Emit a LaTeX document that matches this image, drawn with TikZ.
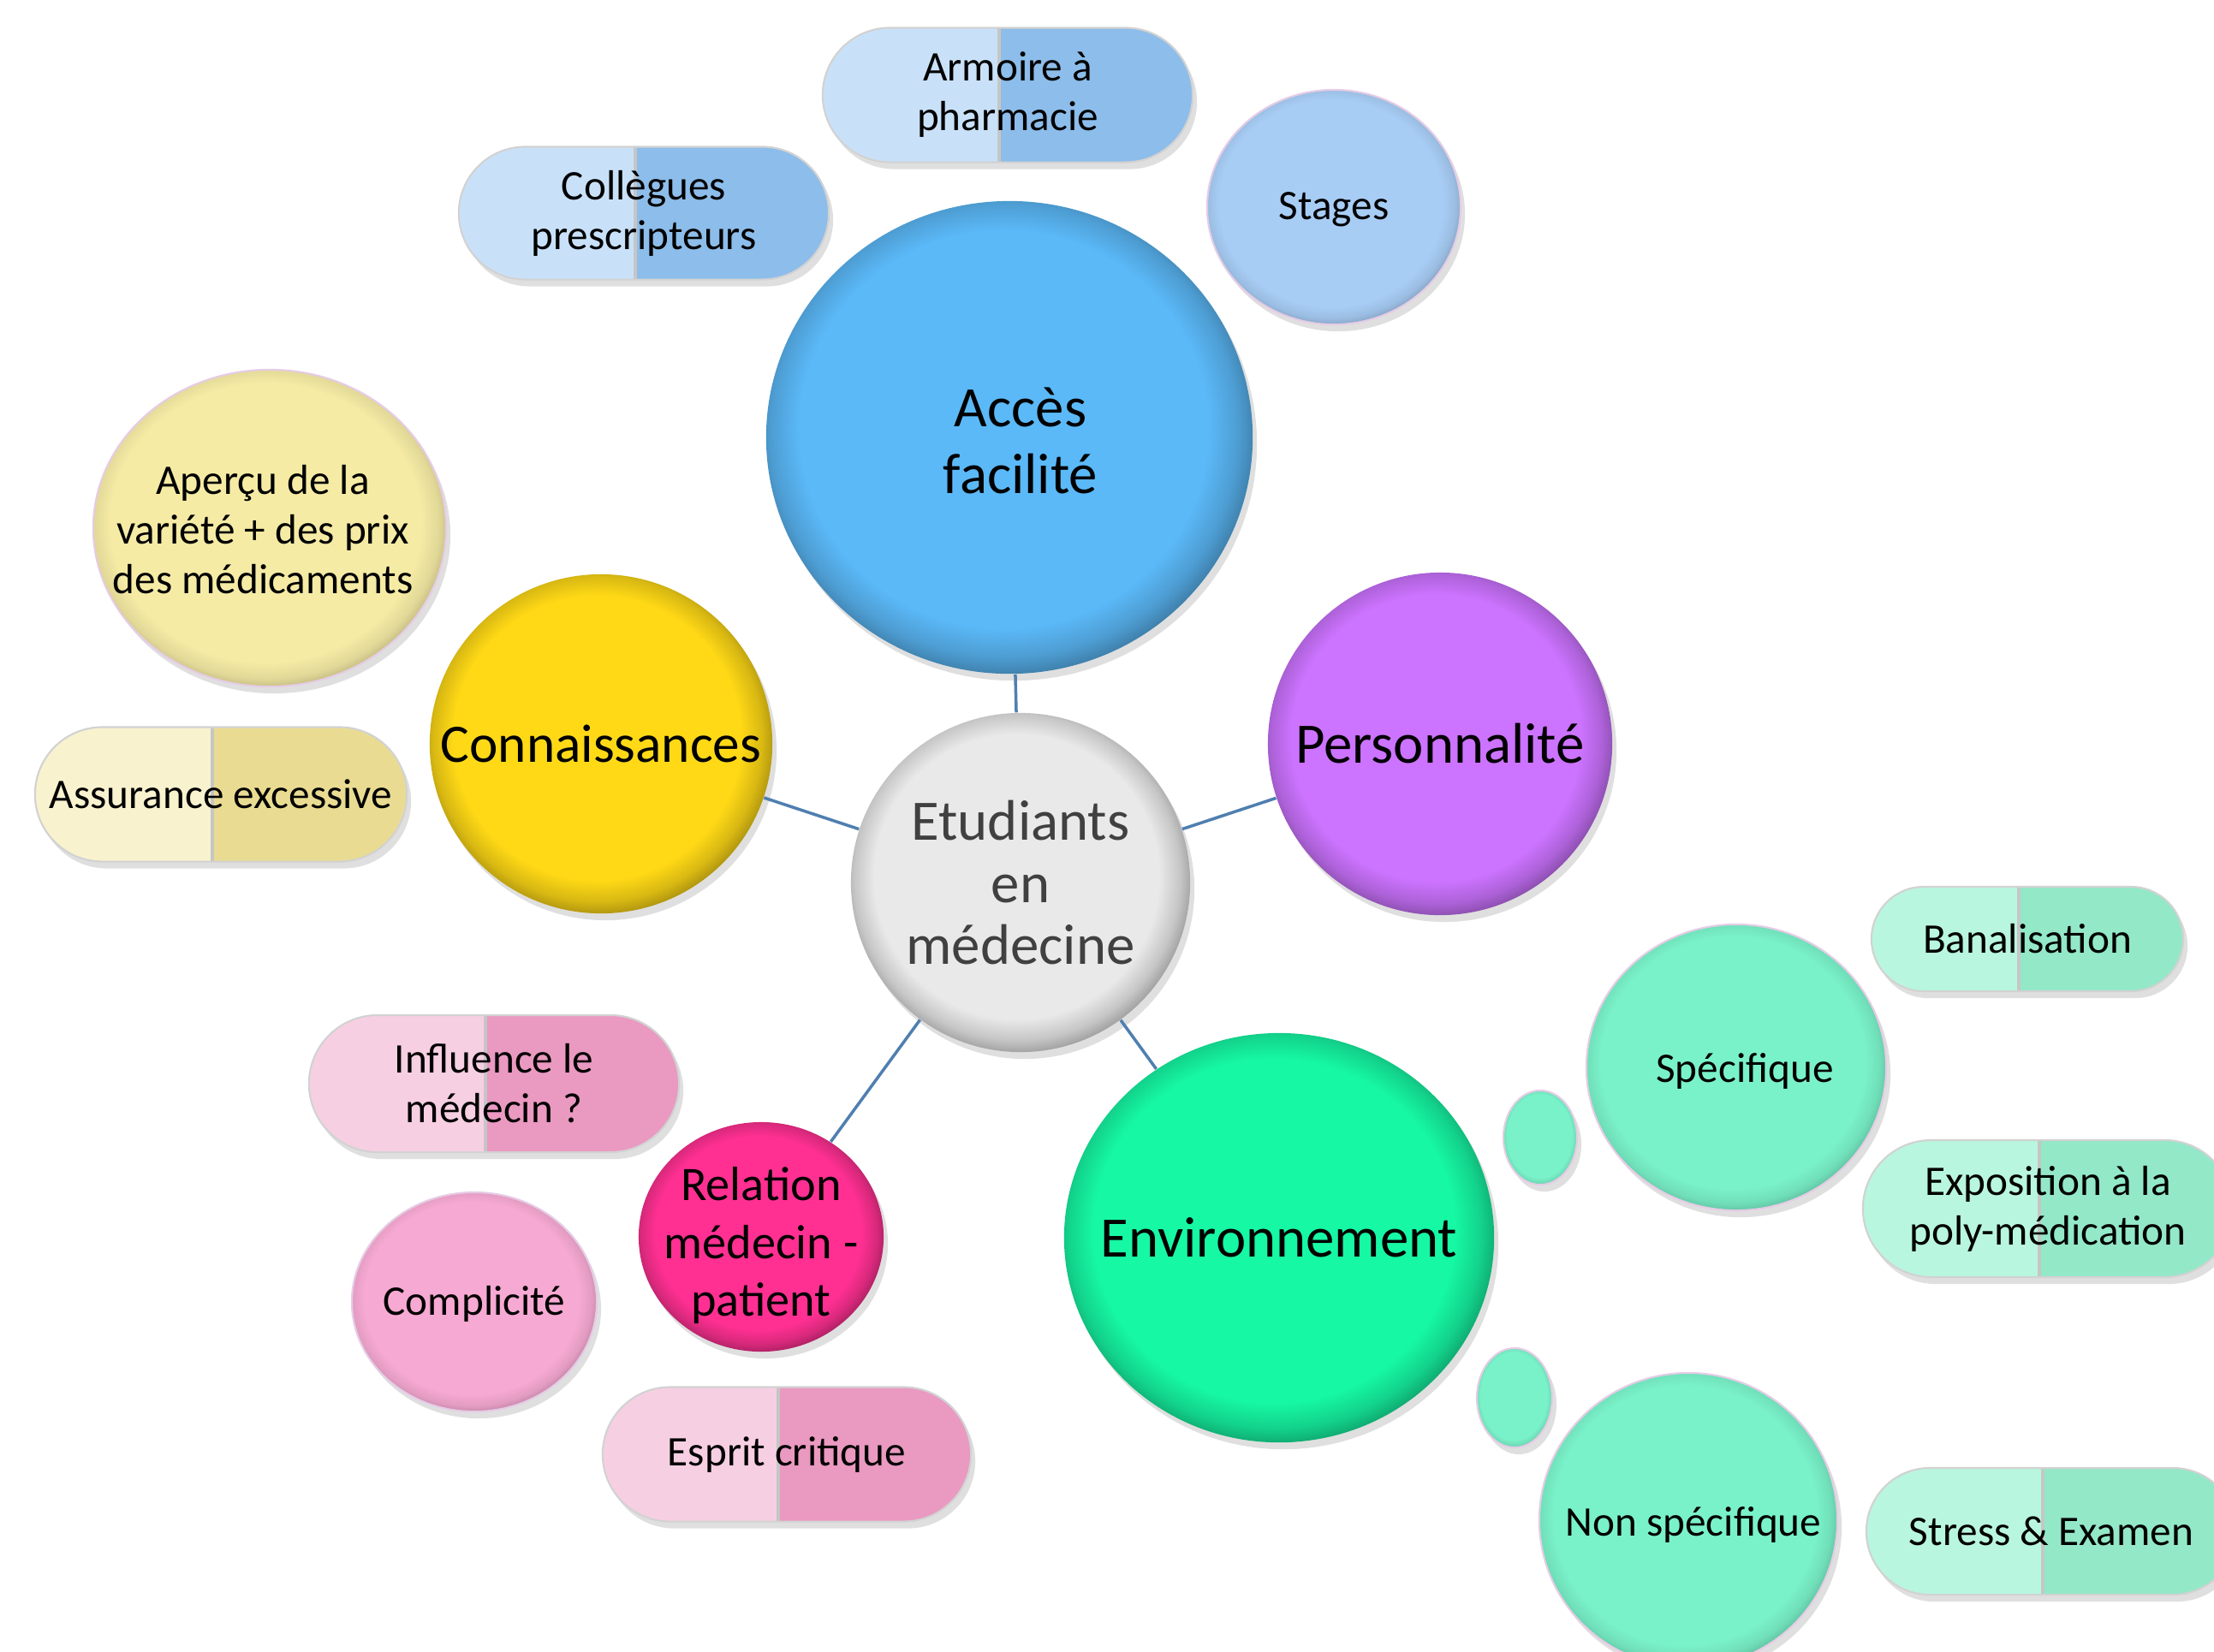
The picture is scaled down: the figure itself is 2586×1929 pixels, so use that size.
\documentclass[tikz,border=0pt]{standalone}
\usepackage{fontspec}
\setmainfont{Carlito}
\usepackage{xcolor}
\usepackage{tikz}
\usetikzlibrary{shapes,positioning,shadows}
\usetikzlibrary{shapes.geometric, shapes.misc}

\definecolor{linkblue}{HTML}{4F7FB0}
\definecolor{centregrey}{HTML}{E9E9E9}
\definecolor{centretext}{HTML}{404040}
\definecolor{accesblue}{HTML}{5BB9F8}
\definecolor{connyellow}{HTML}{FFD916}
\definecolor{persopurple}{HTML}{CC73FF}
\definecolor{envgreen}{HTML}{16F8A4}
\definecolor{relpink}{HTML}{FF3092}
\definecolor{bluesat}{HTML}{A8CDF5}
\definecolor{bluelight}{HTML}{C9E1F8}
\definecolor{bluedark}{HTML}{8DBDEA}
\definecolor{yellowsat}{HTML}{F5EBA5}
\definecolor{yellowlight}{HTML}{F8F2CE}
\definecolor{yellowdark}{HTML}{E9DC92}
\definecolor{pinksat}{HTML}{F6A9D2}
\definecolor{pinklight}{HTML}{F7CFE2}
\definecolor{pinkdark}{HTML}{EA99C1}
\definecolor{greensat}{HTML}{7AF2C9}
\definecolor{greenlight}{HTML}{B9F6DF}
\definecolor{greendark}{HTML}{93E8C8}

\colorlet{bubblecol}{white}
\pgfdeclareradialshading[bubblecol]{bubble}{\pgfpoint{-1bp}{1.5bp}}{color(0bp)=(bubblecol); color(21bp)=(bubblecol); color(24bp)=(bubblecol!85!black); color(26bp)=(bubblecol!68!black); color(50bp)=(bubblecol!68!black)}
\pgfdeclareradialshading[bubblecol]{softbubble}{\pgfpoint{-1bp}{1.5bp}}{color(0bp)=(bubblecol); color(22bp)=(bubblecol); color(24.5bp)=(bubblecol!92!black); color(26bp)=(bubblecol!80!black); color(50bp)=(bubblecol!80!black)}

\tikzstyle{link} = [line width=1pt, draw=linkblue]
\tikzset{
    bubble/.style={ellipse, inner sep=0pt, /utils/exec={\colorlet{bubblecol}{#1}}, shading=bubble,
        drop shadow={shadow xshift=0.5mm, shadow yshift=-0.8mm, opacity=0.25}},
    satellite/.style={bubble=#1, shading=softbubble, draw=violet!20, line width=0.6pt},
    capsule/.style={rounded rectangle, inner sep=0pt, fill=#1light, draw=gray!35, line width=0.6pt,
        drop shadow={shadow xshift=0.5mm, shadow yshift=-0.8mm, opacity=0.25},
        path picture={\fill[#1dark] ([xshift=-1mm]path picture bounding box.north) rectangle (path picture bounding box.south east);
            \draw[gray!45, line width=1pt] ([xshift=-1mm]path picture bounding box.north) -- ([xshift=-1mm]path picture bounding box.south);}}
}

\begin{document}
\begin{tikzpicture}[x=0.01cm, y=-0.01cm]
    \tikzstyle{maintext}=[font=\fontsize{19}{22}\selectfont, align=center]
    \tikzstyle{subtext}=[font=\fontsize{14}{16.5}\selectfont, align=center]

    \useasboundingbox (0,0) rectangle (2586,1929);

    % centre and main branches
    \node[bubble=centregrey, minimum width=3.96cm, minimum height=3.96cm] (centre) at (1192,1031) {};
    \node[maintext, text=centretext, font=\fontsize{19}{20.5}\selectfont] (centretxt) at (centre) {Etudiants\\en\\médecine};

    \node[bubble=accesblue, minimum width=5.68cm, minimum height=5.52cm] (acces) at (1179,511) {};
    \node[maintext] (accestxt) at (1192,515) {Accès\\facilité};

    \node[bubble=connyellow, minimum width=4.00cm, minimum height=3.96cm] (connaissances) at (702,869) {};
    \node[maintext, font=\fontsize{18}{22}\selectfont] (connaissancestxt) at (connaissances) {Connaissances};

    \node[bubble=persopurple, minimum width=4.02cm, minimum height=4.00cm] (personnalite) at (1682,869) {};
    \node[maintext] (personnalitetxt) at (personnalite) {Personnalité};

    \node[bubble=envgreen, minimum width=5.02cm, minimum height=4.78cm] (environnement) at (1494,1446) {};
    \node[maintext] (environnementtxt) at (environnement) {Environnement};

    \node[bubble=relpink, minimum width=2.86cm, minimum height=2.68cm] (relation) at (889,1445) {};
    \node[maintext, font=\fontsize{16}{19.2}\selectfont] (relationtxt) at (889,1455) {Relation\\médecin -\\patient};

    \draw[link] (centre) -- (acces);
    \draw[link] (centre) -- (connaissances);
    \draw[link] (centre) -- (personnalite);
    \draw[link] (centre) -- (environnement);
    \draw[link] (centre) -- (relation);

    % acces
    \node[capsule=blue, subtext, minimum width=4.32cm, minimum height=1.55cm] (collegues) at (752,249) {Collègues\\prescripteurs};
    \node[capsule=blue, subtext, minimum width=4.32cm, minimum height=1.57cm] (armoire) at (1177,111) {Armoire à\\pharmacie};
    \node[satellite=bluesat, minimum width=2.96cm, minimum height=2.74cm] (stages) at (1558,242) {};
    \node[subtext] (stagestxt) at (1558,245) {Stages};

    % connaissances
    \node[satellite=yellowsat, minimum width=4.12cm, minimum height=3.70cm] (apercu) at (315,617) {};
    \node[subtext] (apercutxt) at (307,619) {Aperçu de la\\variété + des prix\\des médicaments};
    \node[capsule=yellow, subtext, minimum width=4.34cm, minimum height=1.57cm] (assurance) at (258,928) {Assurance excessive};

    % relation
    \node[capsule=pink, subtext, minimum width=4.32cm, minimum height=1.60cm] (influence) at (577,1266) {Influence le\\médecin ?};
    \node[satellite=pinksat, minimum width=2.86cm, minimum height=2.56cm] (complicite) at (554,1521) {};
    \node[subtext] (complicitetxt) at (554,1523) {Complicité};
    \node[capsule=pink, subtext, minimum width=4.30cm, minimum height=1.57cm] (esprit) at (919,1699) {Esprit critique};

    % environnement
    \node[satellite=greensat, minimum width=0.86cm, minimum height=1.10cm] (bulleA) at (1799,1329) {};
    \node[satellite=greensat, minimum width=0.88cm, minimum height=1.16cm] (bulleB) at (1769,1633) {};
    \node[satellite=greensat, minimum width=3.50cm, minimum height=3.34cm] (specifique) at (2028,1247) {};
    \node[subtext] (specifiquetxt) at (2038,1251) {Spécifique};
    \node[satellite=greensat, minimum width=3.48cm, minimum height=3.44cm] (nonspecifique) at (1972,1776) {};
    \node[subtext] (nonspecifiquetxt) at (1978,1781) {Non spécifique};
    \node[capsule=green, subtext, minimum width=3.64cm, minimum height=1.22cm] (banalisation) at (2368,1097) {Banalisation};
    \node[capsule=green, subtext, minimum width=4.32cm, minimum height=1.60cm] (exposition) at (2392,1412) {Exposition à la\\poly-médication};
    \node[capsule=green, subtext, minimum width=4.32cm, minimum height=1.48cm] (stress) at (2396,1789) {Stress \& Examen};
\end{tikzpicture}
\end{document}
